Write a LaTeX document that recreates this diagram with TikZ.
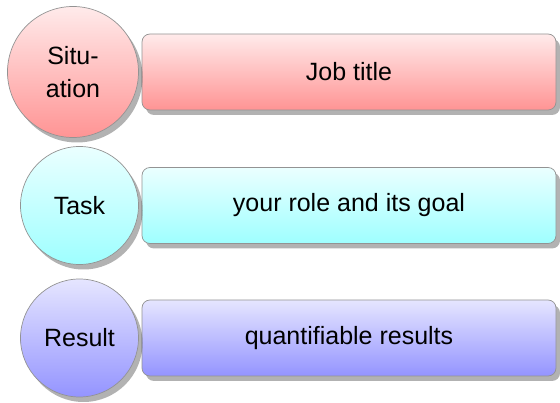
\documentclass[tikz,border=0pt]{standalone}
\usepackage{fontspec}
\setmainfont{Liberation Sans}
\usetikzlibrary{shadows}
\tikzset{
  base/.style={draw=gray!85, line width=0.7pt, font=\fontsize{25}{33}\selectfont, align=center, inner sep=0pt,
    drop shadow={shadow xshift=4pt, shadow yshift=-5pt, fill=black, opacity=0.3}},
  circ/.style={base, circle, minimum size=118pt},
  bar/.style={base, rectangle, rounded corners=8pt, minimum width=414pt, minimum height=76pt},
  redsh/.style={top color=red!8, bottom color=red!42},
  cyansh/.style={top color=cyan!8, bottom color=cyan!38},
  bluesh/.style={top color=blue!10, bottom color=blue!42},
}
\begin{document}
\begin{tikzpicture}[x=1pt,y=-1pt]
\useasboundingbox (0,0) rectangle (560,403);
\node[bar, redsh] (b1) at (349,72) {Job title};
\node[bar, cyansh] (b2) at (349,205.5) {your role and its goal};
\node[bar, bluesh] (b3) at (349,338) {quantifiable results};
\node[circ, redsh, minimum size=131pt] (c1) at (73,72) {Situ-\\ation};
\node[circ, cyansh] (c2) at (79.5,205.5) {Task};
\node[circ, bluesh] (c3) at (79.5,338) {Result};
\end{tikzpicture}
\end{document}
